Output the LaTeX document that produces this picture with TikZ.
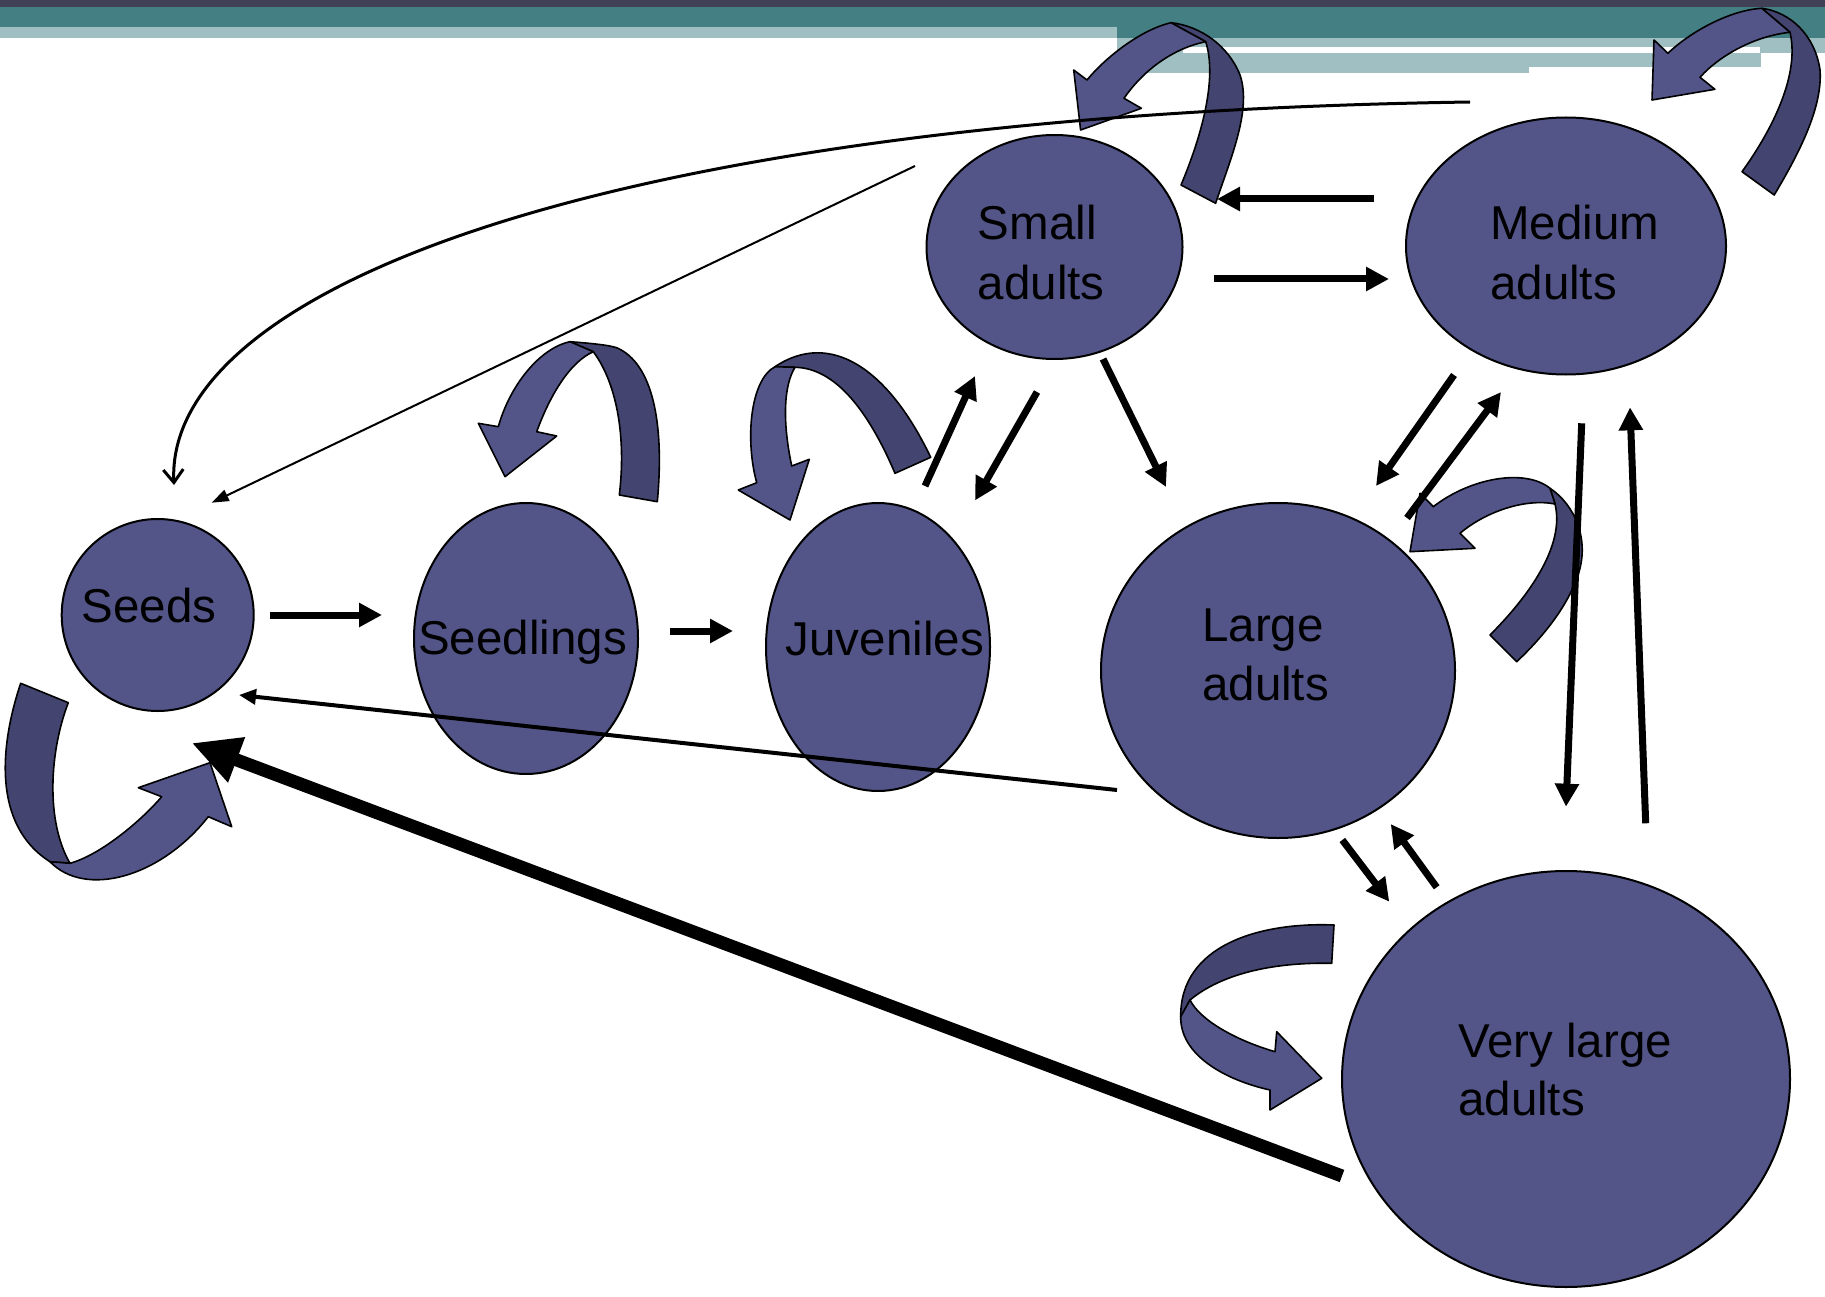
\documentclass[tikz,border=0pt]{standalone}
\usepackage{fontspec}
\setmainfont{Liberation Sans}
\usetikzlibrary{shapes.geometric,arrows.meta}
\definecolor{nodefill}{HTML}{535589}
\definecolor{ribdark}{HTML}{434570}
\definecolor{hdark}{HTML}{404056}
\definecolor{hteal}{HTML}{447F84}
\definecolor{hlight}{HTML}{A0BFC3}
\begin{document}
\begin{tikzpicture}[x=1pt,y=-1pt,
  stage/.style={ellipse, draw=black, line width=2pt, fill=nodefill, inner sep=0pt, outer sep=0pt},
  lbl/.style={font=\fontsize{47.5}{57}\selectfont, inner sep=0pt, anchor=base west, text=black},
  darkrib/.style={fill=ribdark, draw=black, line width=1.6pt, line join=round},
  lightrib/.style={fill=nodefill, draw=black, line width=1.6pt, line join=round},
  arr/.style={line width=7pt, -{Triangle[length=23pt,width=23pt]}},
  bigarr/.style={line width=13pt, -{Triangle[length=48pt,width=45pt]}},
  midarr/.style={line width=4pt, -{Triangle[length=17pt,width=15pt]}},
  thinarr/.style={line width=2pt, -{Triangle[length=17pt,width=12pt]}},
  curvarr/.style={line width=3pt, -{Straight Barb[length=13pt,width=20pt]}}]
\useasboundingbox (0,0) rectangle (1825,1297);
\fill[white] (0,0) rectangle (1825,1297);
% header bands
\fill[hdark] (0,0) rectangle (1825,7);
\fill[hteal] (0,7) rectangle (1825,27);
\fill[hteal] (1117,27) rectangle (1825,38);
\fill[hlight] (0,27) rectangle (1117,38);
\fill[hlight] (1117,38) rectangle (1825,47);
\fill[hlight] (1117,47) rectangle (1183,53);
\fill[hlight] (1760,47) rectangle (1825,53);
\fill[hlight] (1117,53) rectangle (1761,67);
\fill[hlight] (1117,67) rectangle (1529,73);

% stages
\node[stage, minimum width=192pt, minimum height=192pt] (seeds) at (157.7,615) {};
\node[stage, minimum width=224pt, minimum height=271pt] (seedlings) at (526,638.5) {};
\node[stage, minimum width=224pt, minimum height=288pt] (juveniles) at (878,647) {};
\node[stage, minimum width=256pt, minimum height=224pt] (small) at (1054.5,247) {};
\node[stage, minimum width=320pt, minimum height=257pt] (medium) at (1566,246) {};
\node[stage, minimum width=354pt, minimum height=335pt] (large) at (1278,670.5) {};
\node[stage, minimum width=448pt, minimum height=416pt] (vlarge) at (1566,1079) {};

% labels
\node[lbl] (seedsT) at (81.5,622) {Seeds};
\node[lbl] (seedlingsT) at (418,654) {Seedlings};
\node[lbl] (juvT) at (785.6,655) {Juveniles};
\node[lbl] (smallT1) at (977.7,240) {Small};
\node[lbl] (smallT2) at (977.7,299) {adults};
\node[lbl] (medT1) at (1490,240) {Medium};
\node[lbl] (medT2) at (1490,299) {adults};
\node[lbl] (largeT1) at (1202,641) {Large};
\node[lbl] (largeT2) at (1202,700) {adults};
\node[lbl] (vlT1) at (1458,1057) {Very large};
\node[lbl] (vlT2) at (1458,1115) {adults};

% self loops
% Seeds
\filldraw[darkrib] (20.7,683.3) -- (68.3,702.7)
  .. controls (50,750) and (45,820) .. (70,863.3) -- (50,861.7)
  .. controls (-8,825) and (0,745) .. cycle;
\filldraw[lightrib] (50,861.7) .. controls (85,898) and (160,878) .. (208.3,816.7)
  -- (231.7,826.7) -- (210,762.7) -- (138.3,787.7) -- (161.7,796.7)
  .. controls (140,822) and (100,855) .. (70,863.3) -- cycle;
% Seedlings
\filldraw[darkrib] (570,341.7) .. controls (600,344) and (615,346) .. (620,349.3)
  .. controls (655,368) and (664,430) .. (657.3,501.7) -- (619.3,495)
  .. controls (626,440) and (618,385) .. (593.3,351.7) -- cycle;
\filldraw[lightrib] (570,341.7) .. controls (540,348) and (510,385) .. (498.3,426.7)
  -- (478.3,423.3) -- (505,476.7) -- (556.7,436) -- (536.7,431.7)
  .. controls (550,395) and (570,362) .. (593.3,351.7) -- cycle;
% Juveniles
\filldraw[darkrib] (930.7,457.3) .. controls (888,368) and (830,330) .. (775,366.7)
  -- (795,367.3) .. controls (835,368) and (868,410) .. (895,473.3) -- cycle;
\filldraw[lightrib] (775,366.7) .. controls (750,380) and (745,440) .. (756.7,482.7)
  -- (738.3,490) -- (790,520) -- (809.3,459.3) -- (791.7,466)
  .. controls (782,420) and (784,385) .. (795,367.3) -- cycle;
% Small adults
\filldraw[darkrib] (1171,22.7) .. controls (1200,26) and (1228,45) .. (1240,75)
  .. controls (1252,110) and (1230,160) .. (1215.6,203.3) -- (1181,185)
  .. controls (1200,140) and (1218,80) .. (1205.7,41.7) -- cycle;
\filldraw[lightrib] (1171,22.7) .. controls (1140,30) and (1105,58) .. (1087,80)
  -- (1073.7,70) -- (1080.6,130) -- (1141.4,108.3) -- (1124,98.3)
  .. controls (1145,68) and (1175,48) .. (1205.7,41.7) -- cycle;
% Medium adults
\filldraw[darkrib] (1761.8,8.3) .. controls (1790,12) and (1815,35) .. (1820,70)
  .. controls (1823,110) and (1795,160) .. (1774.2,195) -- (1742,171.7)
  .. controls (1772,130) and (1800,75) .. (1790,32.3) -- cycle;
\filldraw[lightrib] (1761.8,8.3) .. controls (1730,10) and (1690,32) .. (1667.9,53.3)
  -- (1654,40) -- (1652,100) -- (1714.9,89.3) -- (1700,77.3)
  .. controls (1720,55) and (1755,36) .. (1790,32.3) -- cycle;
% Large adults
\filldraw[darkrib] (1550,488.3) .. controls (1575,505) and (1590,540) .. (1578,575)
  .. controls (1568,605) and (1545,635) .. (1516.7,661.7) -- (1490,635)
  .. controls (1530,595) and (1565,545) .. (1555,504) -- cycle;
\filldraw[lightrib] (1433.3,506.7) .. controls (1470,478) and (1525,468) .. (1550,488.3)
  -- (1555,504) .. controls (1525,498) and (1485,512) .. (1460,533.3)
  -- (1475,548.3) -- (1410,551.7) -- (1420,493.3) -- cycle;
% Very large adults
\filldraw[darkrib] (1334,925) .. controls (1260,922) and (1180,945) .. (1180.7,1016.7)
  -- (1190,1000) .. controls (1220,975) and (1270,962) .. (1331.7,963.3) -- cycle;
\filldraw[lightrib] (1180.7,1016.7) .. controls (1180,1055) and (1225,1080) .. (1270,1090)
  -- (1270,1110) -- (1321.7,1078.3) -- (1276.7,1031.7) -- (1275,1051.7)
  .. controls (1235,1040) and (1200,1020) .. (1190,1000) -- cycle;

% connector end points
\coordinate (a1s) at (270,615);      \coordinate (a1e) at (382,615);
\coordinate (a2s) at (670,631);      \coordinate (a2e) at (733,631);
\coordinate (a3s) at (925,486);      \coordinate (a3e) at (975,376);
\coordinate (a4s) at (1037,392);     \coordinate (a4e) at (975,500.5);
\coordinate (a5s) at (1103,359);     \coordinate (a5e) at (1166,487);
\coordinate (a6s) at (1374,199);     \coordinate (a6e) at (1217,199);
\coordinate (a7s) at (1214,279);     \coordinate (a7e) at (1389,279);
\coordinate (a8s) at (1454,375);     \coordinate (a8e) at (1376,486);
\coordinate (a9s) at (1407,518);     \coordinate (a9e) at (1501,392);
\coordinate (a10s) at (1581.7,423.3); \coordinate (a10e) at (1566,806.7);
\coordinate (a11s) at (1645.7,823.3); \coordinate (a11e) at (1630,407.3);
\coordinate (a12s) at (1342.3,840);  \coordinate (a12e) at (1389.3,901.7);
\coordinate (a13s) at (1436.7,887.3); \coordinate (a13e) at (1390.7,824);
\coordinate (a14s) at (1342,1176);   \coordinate (a14e) at (191.7,743);
\coordinate (a15s) at (1117,790);    \coordinate (a15e) at (239,695);
\coordinate (a16s) at (915,166);     \coordinate (a16e) at (211.7,502.7);
\coordinate (a17s) at (1470,102);    \coordinate (a17e) at (174,485);

% connectors
\draw[arr] (a1s) -- (a1e);
\draw[arr] (a2s) -- (a2e);
\draw[arr] (a3s) -- (a3e);
\draw[arr] (a4s) -- (a4e);
\draw[arr] (a5s) -- (a5e);
\draw[arr] (a6s) -- (a6e);
\draw[arr] (a7s) -- (a7e);
\draw[arr] (a8s) -- (a8e);
\draw[arr] (a9s) -- (a9e);
\draw[arr] (a10s) -- (a10e);
\draw[arr] (a11s) -- (a11e);
\draw[arr] (a12s) -- (a12e);
\draw[arr] (a13s) -- (a13e);
\draw[bigarr] (a14s) -- (a14e);
\draw[midarr] (a15s) -- (a15e);
\draw[thinarr] (a16s) -- (a16e);
\draw[curvarr] (a17s) .. controls (600,115) and (165,290) .. (a17e);
\end{tikzpicture}
\end{document}
